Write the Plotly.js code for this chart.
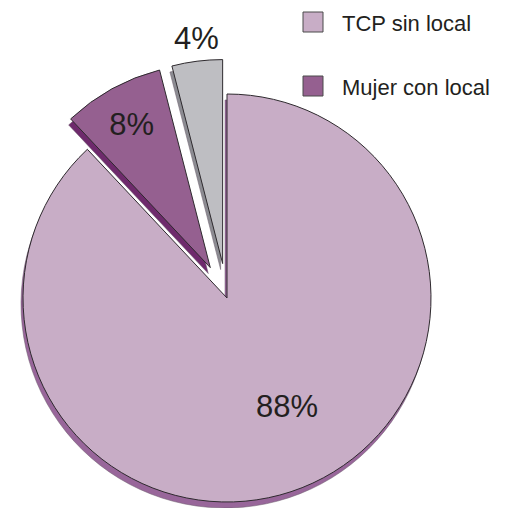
<!DOCTYPE html>
<html>
<head>
<meta charset="utf-8">
<script src="https://cdn.plot.ly/plotly-3.0.1.min.js"></script>
<style>
  html, body { margin: 0; padding: 0; background: #ffffff; }
  #wrap { position: relative; width: 511px; height: 508px; overflow: hidden; }
  #chart { position: absolute; left: -30px; top: 0px; width: 571px; height: 600px; }
</style>
</head>
<body>
<div id="wrap"><div id="chart"></div></div>
<script>
// ---- data ----
const sliceLabels = ['TCP sin local', 'Mujer con local', 'Otros'];
const sliceValues = [88, 8, 4];
const legendLabels = ['TCP sin local', 'Mujer con local'];

// ---- styles ----
const topColors = ['#C8ADC6', '#956090', '#BEBEC2'];
const sideColors = ['#98669A', '#6E2A6C', '#8C8C92'];
const pulls = [0, 0.17, 0.17];
const FONT = 'Liberation Sans, Arial, sans-serif';
const TXT = '#231F20';

// geometry helpers (div is offset -30px left, 571x600)
const DIVW = 571, DIVH = 600, OFFX = 30;
const px = x => (x + OFFX) / DIVW;
const py = y => 1 - y / DIVH;

const R = 204, CX = 227, CY = 298;
const half = R * (1 + Math.max(...pulls));
const dom = {
  x: [px(CX - half), px(CX + half)],
  y: [py(CY + half), py(CY - half)]
};
const sdx = -2 / DIVW, sdy = -6 / DIVH;
const domShadow = {
  x: [dom.x[0] + sdx, dom.x[1] + sdx],
  y: [dom.y[0] + sdy, dom.y[1] + sdy]
};

const total = sliceValues.reduce((a, b) => a + b, 0);
const pctText = sliceValues.map(v => Math.round(v / total * 100) + '%');

const shadow = {
  type: 'pie',
  labels: sliceLabels,
  values: sliceValues,
  sort: false,
  direction: 'clockwise',
  rotation: 0,
  pull: pulls,
  domain: domShadow,
  textinfo: 'none',
  hoverinfo: 'skip',
  showlegend: false,
  marker: { colors: sideColors, line: { color: '#6a5a6a', width: 0.5 } }
};

const main = {
  type: 'pie',
  labels: sliceLabels,
  values: sliceValues,
  sort: false,
  direction: 'clockwise',
  rotation: 0,
  pull: pulls,
  domain: dom,
  text: pctText,
  textinfo: 'text',
  textposition: ['none', 'inside', 'none'],
  insidetextorientation: 'horizontal',
  textfont: { family: FONT, size: 31, color: TXT },
  showlegend: false,
  marker: { colors: topColors, line: { color: '#2E2A2E', width: 1 } }
};

const shapes = [], annotations = [];
// labels of the big and the small slice placed as annotations
const labelPos = [[287, 406], null, [196, 39]];
labelPos.forEach((p, i) => {
  if (!p) return;
  annotations.push({
    xref: 'paper', yref: 'paper', x: px(p[0]), y: py(p[1]),
    xanchor: 'center', yanchor: 'middle', showarrow: false,
    text: pctText[i],
    font: { family: FONT, size: 31, color: TXT }
  });
});

// legend built from shapes + annotations
const legendY = [22, 86];
legendLabels.forEach((lab, i) => {
  const yc = legendY[i];
  shapes.push({
    type: 'rect', xref: 'paper', yref: 'paper',
    x0: px(303), x1: px(323), y0: py(yc - 10), y1: py(yc + 10),
    fillcolor: topColors[i], line: { color: '#4a4a4a', width: 1 }
  });
  annotations.push({
    xref: 'paper', yref: 'paper', x: px(340), y: py(yc + 1),
    xanchor: 'left', yanchor: 'middle', showarrow: false,
    text: lab,
    font: { family: FONT, size: 22, color: TXT }
  });
});

const layout = {
  width: DIVW, height: DIVH,
  margin: { l: 0, r: 0, t: 0, b: 0 },
  paper_bgcolor: '#ffffff',
  showlegend: false,
  shapes: shapes,
  annotations: annotations
};

Plotly.newPlot('chart', [shadow, main], layout, { displayModeBar: false, staticPlot: true });
</script>
</body>
</html>
